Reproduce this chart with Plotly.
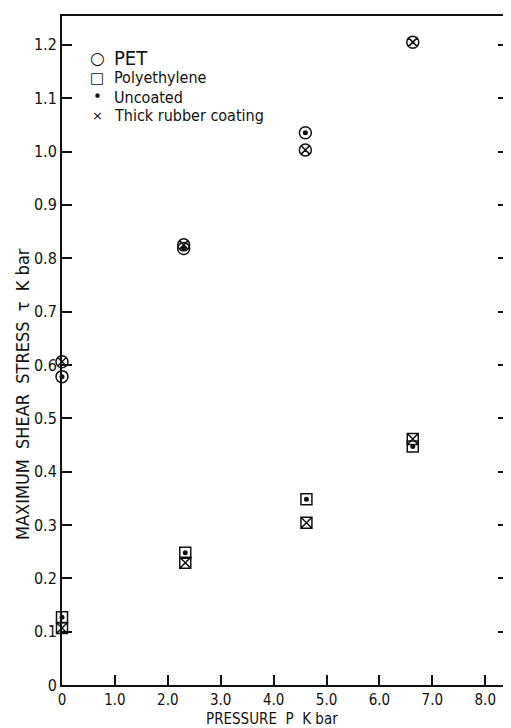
import plotly.graph_objects as go

# Data
pet_uncoated_x = [0.0, 2.3, 4.6]
pet_uncoated_y = [0.578, 0.818, 1.035]
pet_thick_x = [0.0, 2.3, 4.6, 6.63]
pet_thick_y = [0.606, 0.825, 1.003, 1.205]
pe_uncoated_x = [0.0, 2.33, 4.62, 6.63]
pe_uncoated_y = [0.127, 0.248, 0.348, 0.447]
pe_thick_x = [0.0, 2.33, 4.62, 6.63]
pe_thick_y = [0.107, 0.229, 0.304, 0.461]

x_ticks = [0, 1, 2, 3, 4, 5, 6, 7, 8]
x_ticktext = ["0", "1.0", "2.0", "3.0", "4.0", "5.0", "6.0", "7.0", "8.0"]
y_ticks = [0, 0.1, 0.2, 0.3, 0.4, 0.5, 0.6, 0.7, 0.8, 0.9, 1.0, 1.1, 1.2]
y_ticktext = ["0", "0.1", "0.2", "0.3", "0.4", "0.5", "0.6", "0.7", "0.8", "0.9", "1.0", "1.1", "1.2"]

legend_labels = ["PET", "Polyethylene", "Uncoated", "Thick rubber coating"]
legend_symbols = ["○", "□", "•", "×"]

FONT = "DejaVu Sans Condensed, Liberation Sans Narrow, Arial Narrow, sans-serif"
INK = "#111111"

fig = go.Figure()

def add(x, y, sym, size, name, lw=1.5):
    fig.add_trace(go.Scatter(
        x=x, y=y, mode="markers", name=name, showlegend=False,
        marker=dict(symbol=sym, size=size, color=INK, line=dict(color=INK, width=lw)),
        cliponaxis=False,
    ))

add(pet_thick_x, pet_thick_y, "circle-x-open", 12, "PET thick")
add(pet_uncoated_x, pet_uncoated_y, "circle-open", 12, "PET uncoated")
add(pet_uncoated_x, pet_uncoated_y, "circle", 5, "PET uncoated dot", 0)
add(pe_thick_x, pe_thick_y, "square-x-open", 11, "PE thick")
add(pe_uncoated_x, pe_uncoated_y, "square-open", 11, "PE uncoated")
add(pe_uncoated_x, pe_uncoated_y, "circle", 5, "PE uncoated dot", 0)

# page body has an 8px margin: the figure starts at (8, 8)
OFF = 8
W, H = 511 - OFF, 728 - OFF
L, R, T, B = 62 - OFF, 3, 16 - OFF, 43
pw, ph = W - L - R, H - T - B

def px(xp):
    return (xp - OFF - L) / pw

def py(yp):
    return (H - B - (yp - OFF)) / ph

annotations = []
# legend
leg_y = [58, 78, 97, 116]
leg_size = [20, 16, 16, 16]
sym_size = [17, 15, 15, 13]
for lab, sym, yy, fs, ss in zip(legend_labels, legend_symbols, leg_y, leg_size, sym_size):
    annotations.append(dict(x=px(97), y=py(yy), xref="paper", yref="paper", text=sym,
                            showarrow=False, xanchor="center", yanchor="middle",
                            font=dict(family="DejaVu Sans", size=ss, color=INK)))
    annotations.append(dict(x=px(112), y=py(yy), xref="paper", yref="paper", text=lab,
                            showarrow=False, xanchor="left", yanchor="middle",
                            font=dict(family=FONT, size=fs, color=INK)))

# axis titles
annotations.append(dict(x=px(22), y=py(394), xref="paper", yref="paper",
                        text="MAXIMUM  SHEAR  STRESS  τ  K bar", textangle=-90,
                        showarrow=False, xanchor="center", yanchor="middle",
                        font=dict(family=FONT, size=18, color=INK)))
annotations.append(dict(x=px(272), y=py(719), xref="paper", yref="paper",
                        text="PRESSURE  P  K bar",
                        showarrow=False, xanchor="center", yanchor="middle",
                        font=dict(family=FONT, size=15, color=INK)))

fig.update_layout(
    width=W, height=H,
    margin=dict(l=L, r=R, t=T, b=B, pad=0, autoexpand=False),
    paper_bgcolor="white", plot_bgcolor="white",
    font=dict(family=FONT, size=15, color=INK),
    annotations=annotations,
    xaxis=dict(range=[0, 8.43], tickvals=x_ticks, ticktext=x_ticktext,
               ticks="inside", ticklen=10, tickwidth=1.5, tickcolor=INK,
               showline=True, linewidth=2, linecolor=INK, mirror=True,
               showgrid=False, zeroline=False, tickfont=dict(size=15),
               automargin=False),
    yaxis=dict(range=[0, 1.254], tickvals=y_ticks, ticktext=y_ticktext,
               ticks="inside", ticklen=10, tickwidth=1.5, tickcolor=INK,
               showline=True, linewidth=2, linecolor=INK, mirror="ticks",
               showgrid=False, zeroline=False, tickfont=dict(size=16),
               automargin=False),
)

fig.write_html("out.html")
